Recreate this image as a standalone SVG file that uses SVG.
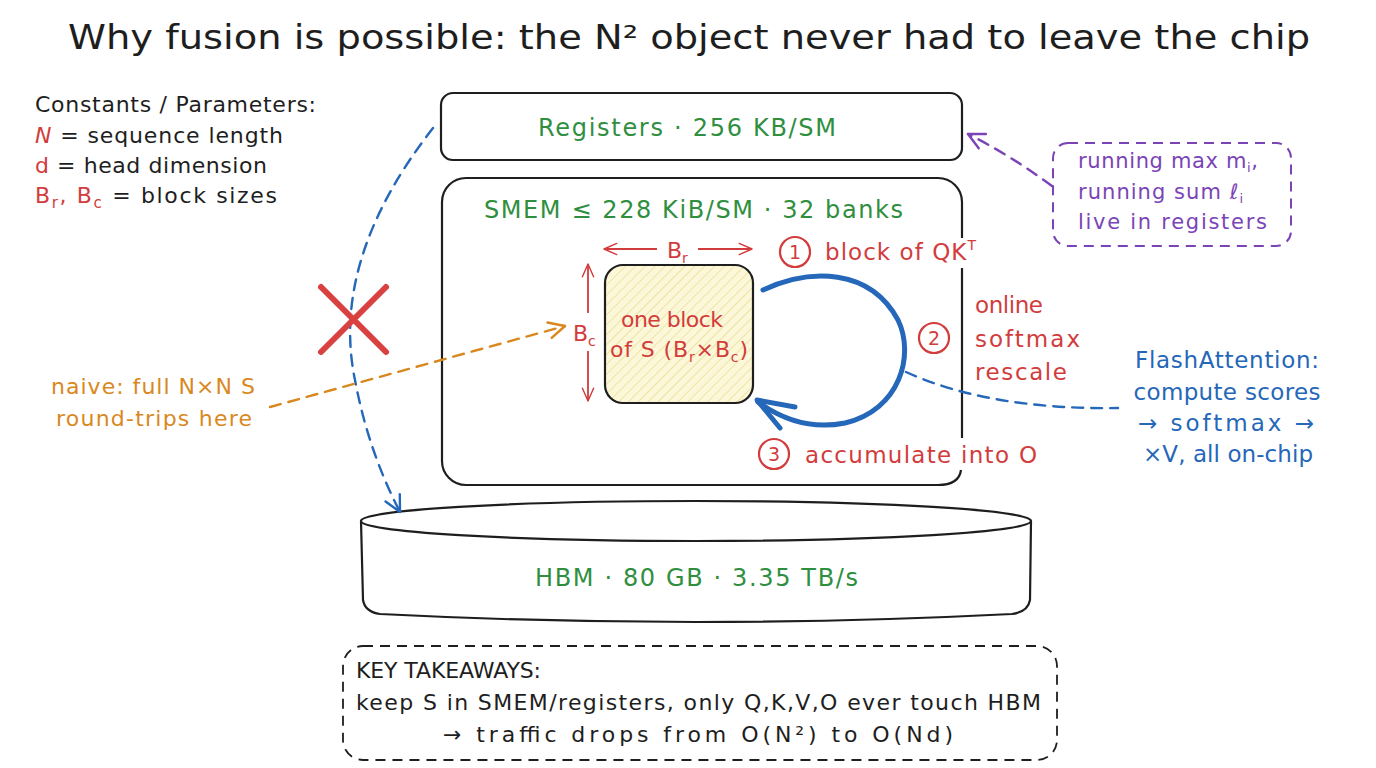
<svg xmlns="http://www.w3.org/2000/svg" width="1376" height="768" viewBox="0 0 1376 768">
<defs>
<style>
text{font-family:"DejaVu Sans","Liberation Sans",sans-serif}
.t{fill:#1e1e1e;font-size:22px}
.g{fill:#2f8f3f;font-size:24px}
.r{fill:#d23c3c;font-size:22px}
.b{fill:#2567b8;font-size:23px}
.p{fill:#7b44b6;font-size:21px}
.o{fill:#d9881e;font-size:22px}
.n{fill:#d23c3c;font-size:19px}
.box{fill:#fff;stroke:#1e1e1e;stroke-width:2.2}
.dash{fill:none;stroke-width:2.4;stroke-dasharray:11 8;stroke-linecap:round}
</style>
<pattern id="hatch" width="7" height="7" patternUnits="userSpaceOnUse" patternTransform="rotate(45)">
<rect width="7" height="7" fill="#fcf7d8"/>
<line x1="0" y1="0" x2="0" y2="7" stroke="#e6da86" stroke-width="1.3"/>
</pattern>
<marker id="ab" viewBox="0 0 20 20" refX="18" refY="10" markerWidth="20" markerHeight="20" markerUnits="userSpaceOnUse" orient="auto"><path d="M2 2 L18 10 L2 18" fill="none" stroke="#2567b8" stroke-width="2.4" stroke-linecap="round" stroke-linejoin="round"/></marker>
<marker id="ap" viewBox="0 0 20 20" refX="18" refY="10" markerWidth="20" markerHeight="20" markerUnits="userSpaceOnUse" orient="auto"><path d="M2 2 L18 10 L2 18" fill="none" stroke="#7b44b6" stroke-width="2.4" stroke-linecap="round" stroke-linejoin="round"/></marker>
<marker id="ao" viewBox="0 0 20 20" refX="18" refY="10" markerWidth="20" markerHeight="20" markerUnits="userSpaceOnUse" orient="auto"><path d="M2 2 L18 10 L2 18" fill="none" stroke="#d9881e" stroke-width="2.4" stroke-linecap="round" stroke-linejoin="round"/></marker>
<marker id="ar" viewBox="0 0 20 20" refX="18" refY="10" markerWidth="16" markerHeight="16" markerUnits="userSpaceOnUse" orient="auto-start-reverse"><path d="M2 3 L18 10 L2 17" fill="none" stroke="#d23c3c" stroke-width="1.8" stroke-linecap="round" stroke-linejoin="round"/></marker>
</defs>
<rect width="1376" height="768" fill="#ffffff"/>

<text id="title" x="68" y="49" font-size="33" fill="#1e1e1e" textLength="1242" lengthAdjust="spacingAndGlyphs">Why fusion is possible: the N² object never had to leave the chip</text>

<g id="legend">
<text class="t" x="35" y="112" textLength="281" lengthAdjust="spacing">Constants / Parameters:</text>
<text class="t" x="35" y="143" textLength="248" lengthAdjust="spacing"><tspan fill="#d23c3c" font-style="italic">N</tspan> = sequence length</text>
<text class="t" x="35" y="173" textLength="232" lengthAdjust="spacing"><tspan fill="#d23c3c">d</tspan> = head dimension</text>
<text class="t" x="35" y="203" textLength="242" lengthAdjust="spacing"><tspan fill="#d23c3c">B<tspan font-size="15" dy="5">r</tspan><tspan dy="-5">, B</tspan><tspan font-size="15" dy="5">c</tspan></tspan><tspan dy="-5"> = block sizes</tspan></text>
</g>

<g id="registers">
<rect class="box" x="441" y="93" width="521" height="67" rx="12"/>
<text class="g" x="538" y="136" textLength="298" lengthAdjust="spacing">Registers · 256 KB/SM</text>
</g>

<g id="smem">
<path d="M466 178 H938 A24 24 0 0 1 962 202 V238 M962 268 V438 M961 470 Q959 485 938 485 H466 A24 24 0 0 1 442 461 V202 A24 24 0 0 1 466 178" fill="none" stroke="#1e1e1e" stroke-width="2.2"/>
<text class="g" x="484" y="218" textLength="419" lengthAdjust="spacing">SMEM ≤ 228 KiB/SM · 32 banks</text>
</g>

<g id="block">
<rect x="605" y="265" width="148" height="138" rx="18" fill="url(#hatch)" stroke="#1e1e1e" stroke-width="2.2"/>
<text class="r" x="621" y="327" textLength="102" lengthAdjust="spacing">one block</text>
<text class="r" x="610" y="357" textLength="138" lengthAdjust="spacing">of S (B<tspan font-size="14" dy="5">r</tspan><tspan dy="-5">×B</tspan><tspan font-size="14" dy="5">c</tspan><tspan dy="-5">)</tspan></text>
<line x1="657" y1="249" x2="604" y2="249" stroke="#d23c3c" stroke-width="1.8" marker-end="url(#ar)"/>
<line x1="698" y1="249" x2="752" y2="249" stroke="#d23c3c" stroke-width="1.8" marker-end="url(#ar)"/>
<text class="r" x="667" y="258">B<tspan font-size="14" dy="5">r</tspan></text>
<line x1="588" y1="313" x2="588" y2="264" stroke="#d23c3c" stroke-width="1.8" marker-end="url(#ar)"/>
<line x1="588" y1="351" x2="588" y2="401" stroke="#d23c3c" stroke-width="1.8" marker-end="url(#ar)"/>
<text class="r" x="573" y="341">B<tspan font-size="14" dy="5">c</tspan></text>
</g>

<g id="steps">
<circle cx="795" cy="252" r="15" fill="none" stroke="#d23c3c" stroke-width="2.2"/>
<text class="n" x="795" y="259" text-anchor="middle">1</text>
<text class="r" x="825" y="260" style="font-size:23px" textLength="151" lengthAdjust="spacing">block of QK<tspan font-size="14" dy="-10">T</tspan></text>
<circle cx="934" cy="338" r="15" fill="none" stroke="#d23c3c" stroke-width="2.2"/>
<text class="n" x="934" y="345" text-anchor="middle">2</text>
<text class="r" x="975" y="313" style="font-size:23px" textLength="68" lengthAdjust="spacing">online</text>
<text class="r" x="975" y="347" style="font-size:23px" textLength="105" lengthAdjust="spacing">softmax</text>
<text class="r" x="975" y="380" style="font-size:23px" textLength="92" lengthAdjust="spacing">rescale</text>
<circle cx="774" cy="454" r="15" fill="none" stroke="#d23c3c" stroke-width="2.2"/>
<text class="n" x="774" y="461" text-anchor="middle">3</text>
<text class="r" x="805" y="463" style="font-size:23px" textLength="232" lengthAdjust="spacing">accumulate into O</text>
</g>

<g id="hbm">
<path d="M361 521 L363 600 Q365 612 380 614 Q696 630 1012 614 Q1028 612 1030 600 L1031 521" fill="#fff" stroke="#1e1e1e" stroke-width="2.2"/>
<ellipse cx="696" cy="521" rx="335" ry="20" fill="#fff" stroke="#1e1e1e" stroke-width="2.2"/>
<text class="g" x="535" y="586" textLength="323" lengthAdjust="spacing">HBM · 80 GB · 3.35 TB/s</text>
</g>

<g id="note-registers">
<rect x="1053" y="143" width="238" height="103" rx="15" fill="none" stroke="#7b44b6" stroke-width="2" stroke-dasharray="10 7"/>
<text class="p" x="1078" y="168" textLength="180" lengthAdjust="spacing">running max m<tspan font-size="13" dy="4">i</tspan><tspan dy="-4">,</tspan></text>
<text class="p" x="1078" y="199" textLength="165" lengthAdjust="spacing">running sum ℓ<tspan font-size="13" dy="4">i</tspan></text>
<text class="p" x="1078" y="229" textLength="189" lengthAdjust="spacing">live in registers</text>
</g>

<g id="flash-label">
<text class="b" x="1227" y="368" text-anchor="middle" textLength="184" lengthAdjust="spacing">FlashAttention:</text>
<text class="b" x="1227" y="400" text-anchor="middle" textLength="187" lengthAdjust="spacing">compute scores</text>
<text class="b" x="1226" y="431" text-anchor="middle" textLength="176" lengthAdjust="spacing">→ softmax →</text>
<text class="b" x="1228" y="462" text-anchor="middle" textLength="170" lengthAdjust="spacing">×V, all on-chip</text>
</g>

<g id="naive-label">
<text class="o" x="153" y="394" text-anchor="middle" textLength="204" lengthAdjust="spacing">naive: full N×N S</text>
<text class="o" x="154" y="426" text-anchor="middle" textLength="196" lengthAdjust="spacing">round-trips here</text>
</g>

<g id="takeaways">
<rect x="343" y="646" width="714" height="114" rx="20" fill="none" stroke="#1e1e1e" stroke-width="1.8" stroke-dasharray="10 7"/>
<text class="t" x="356" y="678" textLength="185" lengthAdjust="spacing">KEY TAKEAWAYS:</text>
<text class="t" x="356" y="710" textLength="685" lengthAdjust="spacing">keep S in SMEM/registers, only Q,K,V,O ever touch HBM</text>
<text class="t" x="698" y="742" text-anchor="middle" textLength="510" lengthAdjust="spacing">→ traffic drops from O(N²) to O(Nd)</text>
</g>

<g id="connectors">
<path class="dash" d="M433 128 Q330 260 355 380 Q368 450 400 512" stroke="#2567b8" marker-end="url(#ab)"/>
<path class="dash" d="M270 407 L565 326" stroke="#d9881e" marker-end="url(#ao)"/>
<path class="dash" d="M1052 186 Q1010 155 968 134" stroke="#7b44b6" marker-end="url(#ap)"/>
<path class="dash" d="M906 372 Q990 410 1118 408" stroke="#2567b8"/>
<path d="M763 290 C810 268 870 268 898 320 C915 355 900 410 845 423 C810 430 780 418 758 402" fill="none" stroke="#2567b8" stroke-width="5" stroke-linecap="round"/>
<path d="M795 407 L757 400 L780 428" fill="none" stroke="#2567b8" stroke-width="5" stroke-linecap="round" stroke-linejoin="round"/>
<g stroke="#d94040" stroke-width="6" stroke-linecap="round">
<line x1="321" y1="287" x2="386" y2="352"/>
<line x1="386" y1="287" x2="321" y2="352"/>
</g>
</g>
</svg>
